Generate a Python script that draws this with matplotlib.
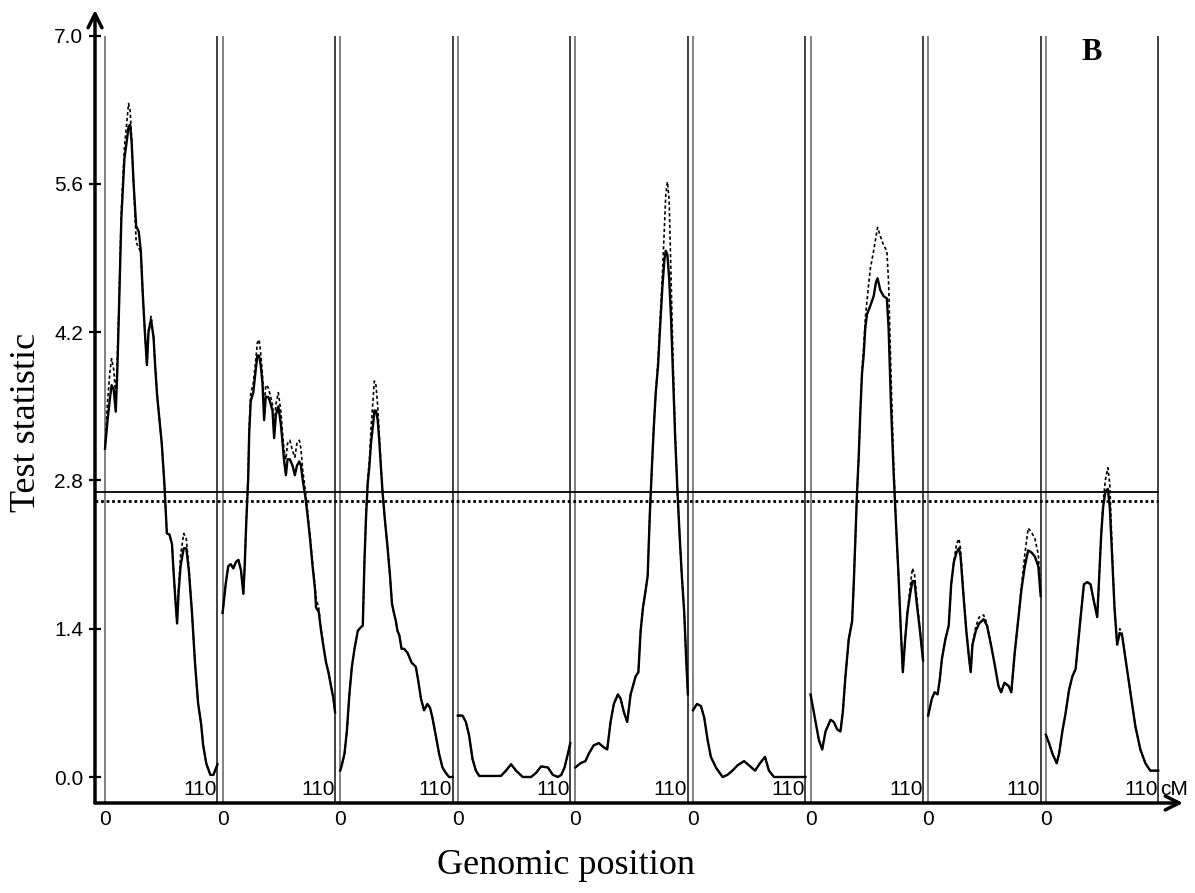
import matplotlib.pyplot as plt

# genome scan: test statistic along 9 chromosomes (0-110 cM each)
cm1 = [0, 2.5, 5, 6.5, 8.5, 10.5, 12, 13.5, 16, 19, 21.5, 23, 24.5, 26, 28, 30.5, 33, 35, 37, 39,
       41, 42.5, 45, 47.5, 49, 51, 53, 55.5, 58, 60.5, 63, 65.5, 67, 69, 70.5, 72, 74, 77, 79.5, 82,
       85, 88, 91, 94, 96, 99, 103, 106, 110]
solid1 = [3.10, 3.37, 3.59, 3.70, 3.66, 3.45, 3.82, 4.35, 5.28, 5.84, 6.02, 6.14, 6.16, 6.00, 5.60,
          5.20, 5.15, 4.97, 4.55, 4.20, 3.89, 4.20, 4.32, 4.15, 3.89, 3.60, 3.40, 3.15, 2.78, 2.30,
          2.29, 2.20, 1.95, 1.65, 1.45, 1.75, 2.00, 2.16, 2.16, 1.95, 1.56, 1.08, 0.70, 0.50, 0.30,
          0.13, 0.02, 0.02, 0.12]
dashed1 = [3.10, 3.55, 3.85, 3.95, 3.85, 3.60, 3.95, 4.40, 5.35, 5.95, 6.20, 6.36, 6.30, 6.05, 5.60,
           5.05, 5.00, 4.95, 4.55, 4.20, 3.89, 4.22, 4.35, 4.15, 3.89, 3.60, 3.40, 3.15, 2.78, 2.30,
           2.29, 2.20, 1.95, 1.65, 1.45, 1.80, 2.10, 2.30, 2.25, 1.98, 1.56, 1.08, 0.70, 0.50, 0.30,
           0.13, 0.02, 0.02, 0.12]

cm2 = [0, 3, 5.5, 8, 10.5, 13, 15.5, 18, 20.3, 21.6, 23.2, 25, 26, 27.5, 30, 32, 34, 35.7, 37.3, 39,
       40.6, 42.2, 44.5, 46.2, 48.8, 50.4, 52.1, 54.5, 57, 58.6, 60.2, 61.9, 63.5, 65.8, 68.4, 70.7,
       72.7, 75, 76.6, 78.3, 81, 83.2, 85.5, 88, 90.4, 91.4, 94, 96.3, 99, 101.2, 103.5, 106, 108.4, 110]
solid2 = [1.55, 1.82, 1.99, 2.01, 1.97, 2.03, 2.05, 1.95, 1.73, 1.99, 2.42, 2.81, 3.24, 3.55, 3.63,
          3.81, 3.98, 3.98, 3.89, 3.72, 3.37, 3.59, 3.59, 3.55, 3.46, 3.20, 3.42, 3.50, 3.33, 3.16,
          2.98, 2.85, 3.00, 3.00, 2.94, 2.85, 2.94, 2.98, 2.94, 2.81, 2.64, 2.46, 2.25, 1.99, 1.77,
          1.60, 1.56, 1.38, 1.21, 1.08, 0.99, 0.86, 0.74, 0.61]
dashed2 = [1.55, 1.82, 1.99, 2.01, 1.97, 2.03, 2.05, 1.95, 1.73, 1.99, 2.42, 2.85, 3.30, 3.62, 3.72,
           3.90, 4.10, 4.13, 4.00, 3.80, 3.45, 3.70, 3.68, 3.62, 3.52, 3.28, 3.52, 3.63, 3.45, 3.25,
           3.08, 3.00, 3.15, 3.18, 3.08, 3.02, 3.15, 3.18, 3.10, 2.90, 2.70, 2.50, 2.28, 2.02, 1.80,
           1.69, 1.60, 1.40, 1.22, 1.08, 0.99, 0.86, 0.74, 0.61]

cm3 = [0, 1, 4.2, 6.5, 9, 11.4, 14, 17.2, 19.8, 22.1, 23.7, 25.3, 26.9, 28.6, 30.2, 32.4, 33.4, 35,
       36.7, 38.3, 40, 41.5, 43.8, 46.4, 48.7, 50.6, 52.3, 54.5, 56, 57.8, 60, 62.6, 66, 69.8, 74,
       76.3, 79, 82, 85.3, 88, 90.2, 93.5, 96.7, 100, 103.2, 106.4, 110]
solid3 = [0.06, 0.09, 0.22, 0.43, 0.78, 1.04, 1.21, 1.38, 1.41, 1.43, 2.03, 2.46, 2.77, 2.94, 3.16,
          3.35, 3.46, 3.46, 3.37, 3.16, 2.90, 2.68, 2.42, 2.16, 1.90, 1.64, 1.56, 1.47, 1.38, 1.34,
          1.21, 1.21, 1.17, 1.08, 1.04, 0.91, 0.74, 0.63, 0.69, 0.65, 0.56, 0.39, 0.22, 0.09, 0.04,
          0.00, 0.00]
dashed3 = [0.06, 0.09, 0.22, 0.43, 0.78, 1.04, 1.21, 1.38, 1.41, 1.43, 2.03, 2.50, 2.80, 3.00, 3.30,
           3.60, 3.74, 3.70, 3.50, 3.22, 2.92, 2.68, 2.42, 2.16, 1.90, 1.64, 1.56, 1.47, 1.38, 1.34,
           1.21, 1.21, 1.17, 1.08, 1.04, 0.91, 0.74, 0.63, 0.69, 0.65, 0.56, 0.39, 0.22, 0.09, 0.04,
           0.00, 0.00]

cm4 = [0, 4.6, 7.9, 11.1, 14.4, 17.7, 21, 42.2, 47.1, 52.1, 57, 63.5, 71.7, 76.6, 81.5, 88.1, 93,
       97.9, 101.2, 104.4, 107.7, 110]
solid4 = [0.58, 0.58, 0.52, 0.39, 0.17, 0.06, 0.01, 0.01, 0.06, 0.12, 0.06, 0.00, 0.00, 0.04, 0.10,
          0.09, 0.02, 0.00, 0.02, 0.09, 0.22, 0.32]
dashed4 = [0.58, 0.58, 0.52, 0.39, 0.17, 0.06, 0.01, 0.01, 0.06, 0.12, 0.06, 0.00, 0.00, 0.04, 0.10,
           0.09, 0.02, 0.00, 0.02, 0.09, 0.22, 0.32]

cm5 = [0, 4.9, 9.8, 13.1, 18, 22.9, 27.8, 31.1, 34.4, 37.6, 41.6, 44.2, 47.5, 50.7, 54, 58.9, 61.6,
       63.8, 66.1, 68.8, 70.7, 72.7, 74.7, 76.6, 78.6, 80.9, 82.8, 85.1, 87.1, 88.4, 90, 91.7, 93.6,
       95.6, 97.6, 99.9, 102.1, 104.1, 106.4, 108.1, 110]
solid5 = [0.09, 0.13, 0.15, 0.22, 0.30, 0.32, 0.28, 0.26, 0.52, 0.69, 0.78, 0.74, 0.61, 0.52, 0.78,
          0.95, 0.99, 1.38, 1.60, 1.77, 1.90, 2.46, 2.90, 3.29, 3.63, 3.89, 4.24, 4.63, 4.89, 4.97,
          4.93, 4.71, 4.32, 3.76, 3.20, 2.68, 2.25, 1.90, 1.56, 1.17, 0.78]
dashed5 = [0.09, 0.13, 0.15, 0.22, 0.30, 0.32, 0.28, 0.26, 0.52, 0.69, 0.78, 0.74, 0.61, 0.52, 0.78,
           0.95, 0.99, 1.38, 1.60, 1.77, 1.90, 2.46, 2.90, 3.29, 3.63, 3.95, 4.30, 4.75, 5.20, 5.50,
           5.62, 5.45, 4.70, 3.90, 3.25, 2.68, 2.25, 1.90, 1.56, 1.17, 0.78]

cm6 = [0, 3.9, 7.8, 11, 14.3, 17.5, 22.4, 28.9, 33.7, 38.6, 43.5, 50, 54.8, 60.7, 65.5, 70.4, 74.3,
       79.2, 110]
solid6 = [0.63, 0.69, 0.67, 0.56, 0.35, 0.19, 0.09, 0.00, 0.02, 0.06, 0.11, 0.15, 0.11, 0.06, 0.13,
          0.19, 0.06, 0.00, 0.00]
dashed6 = [0.63, 0.69, 0.67, 0.56, 0.35, 0.19, 0.09, 0.00, 0.02, 0.06, 0.11, 0.15, 0.11, 0.06, 0.13,
           0.19, 0.06, 0.00, 0.00]

cm7 = [0, 4.9, 8.1, 11.4, 14.6, 19.5, 22.7, 26, 29.2, 31.5, 34.1, 37.3, 40.6, 42.2, 43.8, 45.4, 47.1,
       48.7, 50.3, 51.9, 53.5, 55.2, 58.4, 61.7, 63.9, 65.5, 68.1, 71.4, 74.6, 76.3, 78.5, 81.1, 83.4,
       86, 88.3, 90.2, 92.5, 94.8, 97.4, 99.6, 101.6, 103.8, 106.4, 110]
solid7 = [0.78, 0.52, 0.35, 0.26, 0.43, 0.54, 0.52, 0.45, 0.43, 0.61, 0.95, 1.30, 1.47, 1.82, 2.25,
          2.68, 3.03, 3.46, 3.81, 3.98, 4.24, 4.37, 4.45, 4.54, 4.67, 4.71, 4.60, 4.54, 4.52, 4.24,
          3.55, 2.90, 2.42, 1.90, 1.38, 0.99, 1.30, 1.56, 1.73, 1.85, 1.85, 1.64, 1.43, 1.10]
dashed7 = [0.78, 0.52, 0.35, 0.26, 0.43, 0.54, 0.52, 0.45, 0.43, 0.61, 0.95, 1.30, 1.47, 1.82, 2.25,
           2.68, 3.03, 3.46, 3.85, 4.05, 4.33, 4.50, 4.80, 4.97, 5.10, 5.19, 5.11, 5.02, 4.97, 4.67,
           3.85, 3.00, 2.42, 1.90, 1.38, 0.99, 1.30, 1.56, 1.80, 1.97, 1.92, 1.70, 1.45, 1.10]

cm8 = [0, 3.6, 6.3, 9.2, 11.2, 13.5, 16.8, 20.1, 22.5, 25.1, 27.7, 30.1, 31.7, 34.4, 37.3, 40, 41.6,
       43.3, 46.6, 49.9, 54.2, 57.5, 61.4, 64.7, 68.7, 71.3, 74.6, 78.6, 81.3, 84.6, 87.9, 91.2, 94.5,
       97.8, 101.1, 104.4, 107.7, 110]
solid8 = [0.58, 0.74, 0.80, 0.78, 0.91, 1.12, 1.30, 1.43, 1.82, 2.03, 2.12, 2.16, 2.08, 1.73, 1.38,
          1.12, 0.99, 1.25, 1.38, 1.45, 1.49, 1.43, 1.25, 1.08, 0.86, 0.80, 0.89, 0.86, 0.80, 1.17,
          1.47, 1.77, 1.99, 2.14, 2.12, 2.08, 1.99, 1.71]
dashed8 = [0.58, 0.74, 0.80, 0.78, 0.91, 1.12, 1.30, 1.43, 1.82, 2.03, 2.20, 2.25, 2.15, 1.75, 1.38,
           1.12, 0.99, 1.25, 1.42, 1.51, 1.53, 1.45, 1.25, 1.08, 0.86, 0.80, 0.89, 0.86, 0.80, 1.17,
           1.47, 1.80, 2.10, 2.35, 2.31, 2.25, 2.10, 1.75]

cm9 = [0, 3.2, 6.5, 10.7, 13, 16.2, 19.5, 22.7, 26, 29.2, 31.5, 34.1, 37.3, 40.6, 43.8, 46.4, 50.3,
       51.9, 54.2, 56.1, 58.4, 60.7, 62.6, 64.9, 67.2, 69.8, 72.4, 74.6, 77.9, 81.1, 84.4, 87.6, 92.5,
       97.4, 102.2, 107.1, 110]
solid9 = [0.40, 0.32, 0.22, 0.13, 0.22, 0.43, 0.61, 0.82, 0.95, 1.02, 1.25, 1.51, 1.82, 1.84, 1.82,
          1.69, 1.51, 1.82, 2.29, 2.55, 2.70, 2.72, 2.55, 2.08, 1.60, 1.25, 1.36, 1.34, 1.12, 0.91,
          0.69, 0.48, 0.26, 0.13, 0.06, 0.06, 0.06]
dashed9 = [0.40, 0.32, 0.22, 0.13, 0.22, 0.43, 0.61, 0.82, 0.95, 1.02, 1.25, 1.51, 1.82, 1.84, 1.82,
           1.69, 1.51, 1.82, 2.29, 2.60, 2.81, 2.92, 2.77, 2.15, 1.60, 1.25, 1.40, 1.36, 1.12, 0.91,
           0.69, 0.48, 0.26, 0.13, 0.06, 0.06, 0.06]

chromosomes = [(cm1, solid1, dashed1), (cm2, solid2, dashed2), (cm3, solid3, dashed3),
               (cm4, solid4, dashed4), (cm5, solid5, dashed5), (cm6, solid6, dashed6),
               (cm7, solid7, dashed7), (cm8, solid8, dashed8), (cm9, solid9, dashed9)]

chr_length = 110
chr_step = 115
threshold_solid = 2.69
threshold_dotted = 2.61
ytick_vals = [0.0, 1.4, 2.8, 4.2, 5.6, 7.0]
ytick_labels = ['0.0', '1.4', '2.8', '4.2', '5.6', '7.0']

narrow = ['Liberation Sans Narrow', 'Liberation Sans', 'DejaVu Sans']
serif = ['Liberation Serif', 'DejaVu Serif']

fig = plt.figure(figsize=(11.95, 8.93), dpi=100)
ax = fig.add_axes([95 / 1195, 90 / 893, 1088 / 1195, 793 / 893])
xmin, xmax = -9.78, 1054.2
ymin, ymax = -0.2455, 7.243
ax.set_xlim(xmin, xmax)
ax.set_ylim(ymin, ymax)
for s in ax.spines.values():
    s.set_visible(False)

# axis lines with arrow heads
arrow = dict(arrowstyle='->,head_length=1.0,head_width=0.5', lw=2.5, color='black',
             shrinkA=0, shrinkB=0)
ax.annotate('', xy=(0, 1), xytext=(0, 0), xycoords='axes fraction', arrowprops=arrow)
ax.annotate('', xy=(1, 0), xytext=(0, 0), xycoords='axes fraction', arrowprops=arrow)

ax.set_xticks([])
ax.set_yticks(ytick_vals)
ax.set_yticklabels(ytick_labels, family=narrow, fontsize=15)
ax.tick_params(axis='y', direction='inout', length=9, width=1.6, pad=4)

last_end = (len(chromosomes) - 1) * chr_step + chr_length

# chromosome boundaries
for i in range(len(chromosomes)):
    start = i * chr_step
    ax.vlines(start, ymin, 7.0, color='#777777', lw=1.3)
    ax.vlines(start + chr_length, ymin, 7.0, color='#333333', lw=1.3)
    ax.text(start, -0.40, '0', ha='center', va='center', family=narrow, fontsize=15,
            clip_on=False)
    ax.text(start + chr_length - 0.5, -0.17, '110', ha='right', va='baseline', family=narrow,
            fontsize=15)
ax.text(last_end + 1.5, -0.17, 'cM', ha='left', va='baseline', family=narrow, fontsize=15,
        clip_on=False)

# significance thresholds
ax.plot([xmin, last_end], [threshold_solid, threshold_solid], color='black', lw=1.3)
ax.plot([xmin, last_end], [threshold_dotted, threshold_dotted], color='black', lw=2,
        linestyle=(0, (1, 1)))

for i, (cm, solid, dashed) in enumerate(chromosomes):
    x = [c + i * chr_step for c in cm]
    ax.plot(x, dashed, color='black', lw=1.2, linestyle=(0, (2, 1.5)))
    ax.plot(x, solid, color='black', lw=1.7)

fig.text(0.022, 0.527, 'Test statistic', rotation=90, ha='center', va='center',
         family=serif, fontsize=26)
fig.text(0.474, 0.031, 'Genomic position', ha='center', va='center', family=serif, fontsize=26)
fig.text(1092 / 1195, 1 - 52 / 893, 'B', ha='center', va='center', family=serif,
         fontweight='bold', fontsize=22)

fig.savefig('out.png', dpi=100)
